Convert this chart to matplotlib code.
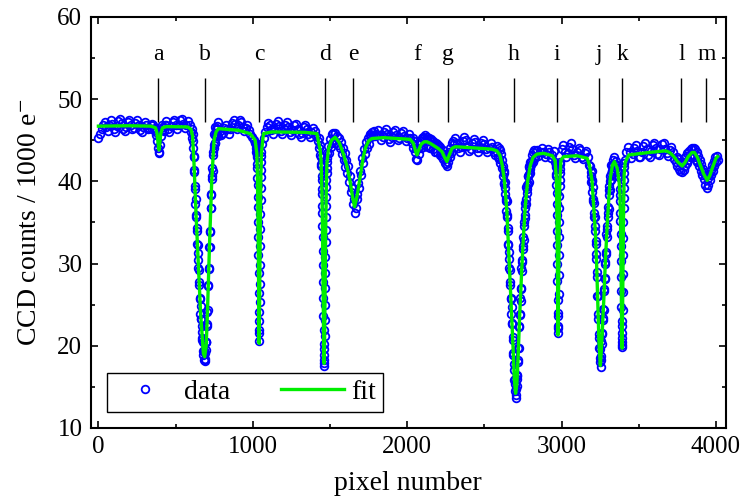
import numpy as np
import matplotlib
matplotlib.use("Agg")
import matplotlib.pyplot as plt
from matplotlib.ticker import MultipleLocator

plt.rcParams["font.family"] = "serif"
plt.rcParams["font.serif"] = ["Liberation Serif", "DejaVu Serif"]
plt.rcParams["mathtext.fontset"] = "stix"

run_01 = [45.3, 45.8, 46.4, 46.9, 47.2, 46.6, 46.1, 46.8, 47.4, 47.0, 46.3, 46.0,
          46.7, 47.3, 47.6, 47.1, 46.4, 46.1, 46.6, 47.2, 47.5, 46.9, 46.3, 46.5,
          47.1, 47.4, 46.8, 46.2, 46.0, 46.6, 47.2, 46.9, 46.3, 46.5, 46.9]
run_a = [46.4, 47.0, 46.8, 46.2, 46.5, 46.0, 45.6, 44.9, 44.0, 43.4, 43.6, 44.4,
         45.5, 46.2, 46.9, 46.6, 46.1, 46.8, 47.3, 46.9]
run_03 = [46.3, 46.0, 46.7, 47.2, 47.5, 46.9, 46.4, 46.8, 47.4, 47.6, 47.0, 46.5,
          46.9, 47.3, 46.8, 46.0]
run_b = [46.4, 45.2, 45.7, 44.0, 44.9, 43.1, 43.0, 41.1, 41.4, 39.4, 39.1, 37.2,
         37.9, 35.9, 35.7, 33.9, 34.3, 32.4, 32.2, 30.4, 31.3, 29.4, 29.2, 27.4,
         27.8, 25.8, 25.7, 23.9, 24.8, 23.2, 23.2, 21.7, 22.4, 20.7, 20.9, 19.3,
         20.5, 18.9, 19.4, 18.3, 19.4, 18.2, 19.1, 18.4, 20.4, 19.5, 20.4, 20.4,
         22.6, 22.4, 24.1, 24.4, 27.3, 27.4, 29.3, 29.5, 32.0, 32.0, 33.8, 33.9,
         36.7, 36.7, 38.3, 38.4, 40.7, 40.3, 41.6, 41.3, 43.6, 43.2, 44.4, 44.1,
         45.7, 44.7, 45.6, 44.7, 46.6, 45.6, 46.4, 45.5, 46.7, 45.7, 46.4, 45.5,
         47.2]
run_05 = [46.1, 45.6, 45.9, 46.5, 46.9, 46.3, 45.8, 46.4, 47.1, 47.5, 47.0, 46.4,
          46.9, 47.4, 47.2, 46.6, 46.1, 46.5, 46.8, 46.2, 45.7, 45.4, 45.0, 44.6]
run_c = [44.6, 44.0, 44.5, 43.6, 44.1, 43.2, 43.5, 43.0, 42.1, 41.6, 40.4, 39.5,
         38.1, 36.9, 35.0, 33.2, 31.0, 28.9, 26.4, 24.1, 21.9, 20.6, 21.5, 23.0,
         25.3, 27.5, 29.8, 32.1, 34.2, 36.0, 37.7, 39.2, 40.5, 41.4, 42.3, 43.1,
         43.6]
run_07 = [44.5, 45.3, 46.0, 46.6, 47.1, 46.8, 46.2, 45.8, 46.4, 47.0, 47.3, 46.7,
          46.1, 45.7, 46.3, 46.9, 47.2, 46.6, 46.0, 45.6, 46.2, 46.8, 47.0, 46.4,
          45.8, 45.4, 45.9, 46.6, 46.9, 46.3, 45.7, 45.4, 46.0, 46.5, 46.1, 45.5,
          44.9]
run_08 = [45.2, 44.0, 44.4, 43.2]
run_d = [42.9, 42.1, 41.8, 40.7, 40.2, 39.0, 38.4, 37.0, 36.1, 34.6, 33.2, 31.5,
         29.8, 27.7, 25.8, 23.6, 21.9, 20.2, 18.9, 17.9, 17.5, 18.3, 19.6, 21.2,
         23.1, 25.0, 27.0, 28.9, 30.8, 32.6, 34.1, 35.6, 37.0, 38.1, 39.3, 40.1,
         41.0, 41.6, 42.4, 42.8, 43.4]
run_e = [44.3, 43.4, 45.1, 44.2, 45.7, 44.6, 45.9, 45.0, 45.9, 44.7, 45.5, 44.4,
         45.2, 44.0, 44.8, 43.3, 44.1, 42.6, 43.4, 41.7, 42.6, 41.0, 41.8, 39.9,
         40.6, 38.7, 39.2, 37.2, 37.8, 36.2, 36.8, 38.5, 37.9, 39.8, 39.2, 41.3,
         40.8, 42.8, 42.2, 43.9, 43.3, 44.8, 44.0, 45.3, 44.5, 45.6, 45.8, 45.4,
         46.0, 45.6, 46.1, 45.5]
run_10 = [45.8, 46.2, 45.6, 45.0, 45.4, 46.0, 46.3, 45.7, 45.1, 44.8, 45.4, 46.0,
          46.2, 45.6, 45.0, 45.3, 45.9, 46.1, 45.5, 44.9, 45.2, 45.8, 45.3, 44.7]
run_fg = [45.3, 44.1, 44.9, 43.5, 44.0, 42.7, 42.6, 44.0, 43.3, 44.7, 44.9, 44.0,
          45.2, 45.4, 44.2, 45.3, 45.6, 44.3, 45.4, 45.1, 44.2, 45.3, 45.0, 44.0,
          45.1, 44.9, 43.9, 44.9, 44.5, 43.6, 44.7, 44.5, 43.5, 44.4, 44.3, 43.2,
          44.2, 43.4, 43.0, 43.8, 42.7, 43.3, 42.2, 42.1, 42.8, 41.9, 42.4, 43.6,
          42.9, 44.1, 43.4, 44.6, 44.9, 44.5]
run_12 = [45.3, 44.7, 44.0, 43.6, 44.2, 44.9, 45.4, 45.0, 44.3, 43.7, 43.9, 44.6,
          45.1, 44.8, 44.1, 43.6, 44.0, 44.7, 45.0, 44.5, 43.9, 43.5, 44.1, 44.6,
          44.2, 43.5, 43.2, 43.6]
run_h1 = [44.3, 42.9, 44.0, 42.7, 43.8, 42.2, 43.3, 41.6, 42.6]
run_h2 = [41.9, 40.6, 41.0, 39.7, 41.2, 39.8, 39.9, 38.5, 39.2, 37.6, 37.9, 36.4,
          37.6, 35.9, 35.7, 33.9, 34.3, 32.4, 32.3, 30.5, 31.4, 29.5, 29.2, 27.4,
          27.8, 25.8, 25.7, 23.9, 24.7, 22.8, 22.6, 20.7, 21.1, 19.1, 18.9, 17.0,
          17.8, 15.8, 16.0, 14.5, 15.3, 13.7, 14.7, 14.0, 15.9, 15.1, 16.5, 16.3,
          18.3, 18.0, 19.7, 19.7, 22.4, 22.3, 23.9, 23.7, 25.8, 25.5, 27.0, 26.9,
          29.4, 29.1, 30.4, 30.2, 32.1, 31.8, 33.2, 32.8, 35.1, 34.6, 35.9, 35.5,
          37.3, 36.7, 37.8, 37.2, 39.3, 38.6, 39.6, 39.0, 40.6, 39.7, 40.6, 39.9,
          41.8, 40.9, 41.7, 41.0, 42.4, 41.5, 42.3]
run_h3 = [42.0, 43.2, 42.4, 43.6, 42.7, 43.8, 42.9, 43.7]
run_14 = [43.8, 43.1, 43.6, 44.1, 43.5, 42.9, 43.3, 43.9, 43.6, 42.8, 43.2, 43.7,
          42.4]
run_i = [42.0, 41.7, 40.9, 40.6, 39.5, 38.6, 37.2, 35.9, 34.0, 32.3, 30.0, 27.9,
         25.6, 23.6, 22.1, 21.5, 22.4, 24.0, 26.3, 28.6, 31.0, 33.2, 35.1, 36.8,
         38.2, 39.4, 40.2, 41.0, 41.5, 42.1, 42.4]
run_16 = [43.9, 44.4, 43.6, 42.9, 43.4, 44.2, 44.6, 43.9, 43.2, 42.8, 43.5, 44.1,
          43.8, 43.0, 42.7, 43.4, 43.7, 42.9, 42.0]
run_j = [41.9, 40.6, 41.1, 39.9, 41.3, 40.0, 40.2, 38.7, 39.3, 37.6, 37.8, 36.2,
         37.3, 35.6, 35.6, 34.0, 34.6, 32.7, 32.4, 30.5, 31.2, 29.0, 28.4, 26.1,
         26.1, 23.8, 23.2, 21.0, 21.4, 19.7, 19.6, 18.0, 18.5, 17.4, 18.7, 18.3,
         20.6, 20.2, 21.6, 21.4, 23.4, 23.1, 24.5, 24.3, 26.9, 26.7, 28.2, 28.1,
         30.2, 30.0, 31.4, 31.2, 33.6, 33.2, 34.5, 34.2, 36.1, 35.6, 36.9, 36.6,
         38.9, 38.3, 39.4, 38.9, 40.6, 40.0, 40.9, 40.1, 42.0, 41.2, 42.0, 41.2,
         42.6]
run_k1 = [42.0, 42.9, 42.1, 42.5, 41.6, 42.0, 41.1, 40.5]
run_k2 = [39.0, 38.3, 37.6, 36.2, 35.2, 33.6, 32.1, 30.3, 28.4, 26.6, 24.7, 23.0,
          21.6, 20.5, 19.9, 20.1, 20.9, 22.4, 24.3, 26.5, 28.7, 31.0, 33.1, 35.0,
          36.7, 38.0, 39.2, 40.2, 41.0, 41.7, 42.2]
run_19 = [42.6, 43.6, 44.2, 43.5, 42.8, 43.3, 44.0, 44.4, 43.7, 43.0, 42.9, 43.6,
          44.3, 44.6, 43.9, 43.2, 43.0, 43.7, 44.4, 44.7, 44.0, 43.3, 43.2, 43.9,
          44.5, 44.6, 43.9, 43.4, 43.1, 43.8, 44.2, 43.5, 42.7, 42.4]
run_lm = [43.0, 41.9, 42.7, 41.5, 42.4, 41.2, 42.3, 41.1, 42.4, 41.4, 42.8, 41.8,
          43.1, 42.2, 43.4, 42.6, 43.7, 42.9, 43.9, 43.1, 44.0, 43.2, 44.1, 43.0,
          43.9, 42.6, 43.5, 42.3, 43.1, 41.8, 42.6, 41.3, 42.1, 40.8, 41.5, 40.3,
          41.1, 39.5, 40.6, 39.2, 40.4, 39.6, 40.9, 40.1, 41.4, 40.8, 42.0, 41.3,
          42.5, 41.9, 43.0, 42.4, 43.1, 42.6]

runs = [
    (0, 10, run_01), (345, 5, run_a), (450, 10, run_03), (606, 2, run_b),
    (785, 10, run_05), (1020, 1, run_c), (1060, 10, run_07), (1426, 4, run_08),
    (1442, 1, run_d), (1486, 6, run_e), (1800, 10, run_10), (2035, 5, run_fg),
    (2310, 10, run_12), (2584, 4, run_h1), (2620, 2, run_h2), (2804, 4, run_h3),
    (2840, 10, run_14), (2962, 1, run_i), (3000, 10, run_16), (3186, 2, run_j),
    (3335, 5, run_k1), (3377, 1, run_k2), (3410, 10, run_19), (3745, 5, run_lm),
]

fit_px = [0, 200, 340, 370, 380, 386, 392, 398, 404, 415, 440, 580, 600, 610, 619,
          632, 647, 662, 680, 688, 698, 706, 719, 734, 749, 762, 777, 906, 982,
          1015, 1026, 1030, 1034, 1038, 1041, 1044, 1048, 1052, 1056, 1069, 1123,
          1339, 1415, 1436, 1442, 1448, 1452, 1456, 1459, 1462, 1465, 1468, 1472,
          1476, 1480, 1490, 1510, 1533, 1560, 1587, 1610, 1630, 1645, 1659, 1672,
          1685, 1700, 1715, 1730, 1750, 1771, 1846, 2019, 2040, 2055, 2063, 2072,
          2090, 2110, 2128, 2150, 2175, 2200, 2225, 2245, 2257, 2270, 2290, 2311,
          2400, 2549, 2580, 2600, 2615, 2630, 2645, 2660, 2672, 2684, 2694, 2702,
          2710, 2718, 2728, 2740, 2752, 2765, 2780, 2797, 2815, 2840, 2884, 2940,
          2958, 2966, 2970, 2974, 2977, 2980, 2984, 2988, 2996, 3014, 3100, 3165,
          3180, 3197, 3208, 3219, 3227, 3234, 3242, 3251, 3259, 3266, 3273, 3284,
          3295, 3306, 3316, 3330, 3342, 3360, 3372, 3378, 3382, 3386, 3389, 3391.5,
          3394, 3397, 3401, 3405, 3412, 3435, 3564, 3673, 3700, 3727, 3750, 3781,
          3800, 3820, 3845, 3860, 3880, 3900, 3920, 3943, 3960, 3980, 4000, 4010]
fit_val = [46.7, 46.75, 46.7, 46.5, 45.8, 44.7, 43.8, 44.7, 45.8, 46.5, 46.65, 46.6,
           46.3, 45.5, 42.2, 36.1, 30.0, 23.9, 19.05, 18.65, 20.0, 23.9, 32.0, 40.1,
           45.0, 46.0, 46.4, 46.2, 45.8, 45.0, 43.4, 40.5, 35.0, 26.5, 20.3, 25.2,
           34.0, 40.3, 43.5, 45.8, 46.0, 45.95, 45.8, 43.8, 42.6, 38.5, 33.3, 25.8,
           20.3, 17.85, 21.0, 26.8, 34.0, 39.1, 42.2, 43.9, 45.0, 45.35, 44.7, 43.3,
           41.8, 40.0, 38.2, 36.9, 37.9, 39.3, 41.1, 42.9, 44.1, 44.9, 45.2, 45.3,
           45.1, 44.6, 43.6, 43.2, 43.7, 44.5, 44.8, 44.8, 44.6, 44.3, 44.0, 43.6,
           42.8, 42.4, 43.1, 44.0, 44.2, 44.1, 43.9, 43.7, 43.2, 42.0, 40.0, 36.5,
           30.5, 25.5, 20.5, 16.0, 14.2, 15.3, 18.5, 23.5, 28.5, 33.0, 37.0, 40.0,
           41.9, 42.9, 43.3, 43.4, 43.1, 42.5, 40.3, 35.5, 26.5, 21.3, 26.0, 34.5,
           40.0, 42.6, 43.0, 43.1, 42.8, 42.0, 40.1, 37.0, 33.7, 29.8, 25.5, 20.5,
           17.6, 20.0, 22.8, 25.5, 30.5, 34.5, 38.0, 40.5, 42.0, 42.4, 41.6, 40.0,
           38.5, 34.5, 27.5, 22.3, 19.7, 22.5, 28.5, 36.0, 40.8, 42.3, 43.2, 43.5,
           43.7, 43.5, 43.0, 42.4, 41.85, 42.3, 43.0, 43.5, 43.5, 42.9, 41.9, 40.9,
           40.1, 40.7, 41.8, 42.8, 43.0]

line_tags = ["a", "b", "c", "d", "e", "f", "g", "h", "i", "j", "k", "l", "m"]
line_px = [388, 690, 1042, 1468, 1652, 2067, 2266, 2692, 2972, 3245, 3394, 3776, 3938]


def main():
    px = np.concatenate([start + step * np.arange(len(v)) for start, step, v in runs])
    counts = np.concatenate([np.asarray(v, dtype=float) for _, _, v in runs])

    fig = plt.figure(figsize=(7.41, 4.98), dpi=100)
    ax = fig.add_axes([0.1224, 0.1406, 0.8574, 0.8257])

    ax.plot(px, counts, "o", mfc="none", mec="#0000ff", ms=5.5, mew=1.3,
            label="data", zorder=2)
    ax.plot(fit_px, fit_val, "-", color="#00ee00", lw=2.4, label="fit", zorder=3)

    ax.vlines(line_px, 47.2, 52.5, color="k", lw=1.0)
    for x, tag in zip(line_px, line_tags):
        ax.text(x, 54.8, tag, ha="center", va="baseline", fontsize=17)

    ax.set_xlim(-50, 4065)
    ax.set_ylim(10, 60)
    ax.xaxis.set_major_locator(MultipleLocator(1000))
    ax.xaxis.set_minor_locator(MultipleLocator(500))
    ax.yaxis.set_major_locator(MultipleLocator(10))
    ax.yaxis.set_minor_locator(MultipleLocator(5))
    ax.tick_params(which="both", direction="in", top=True, right=True,
                   labelsize=18, width=1.2)
    ax.tick_params(which="major", length=5, pad=6)
    ax.tick_params(which="minor", length=3)
    for sp in ax.spines.values():
        sp.set_linewidth(1.5)

    ax.set_xlabel("pixel number", fontsize=20, labelpad=9)
    ax.set_ylabel(r"CCD counts / 1000 e$^{-}$", fontsize=20, labelpad=11)

    leg = ax.legend(loc="lower left", bbox_to_anchor=(0.025, 0.039), ncol=2,
                    fontsize=20, fancybox=False, edgecolor="k", framealpha=1,
                    handlelength=2.3, handletextpad=0.25, columnspacing=1.8,
                    borderpad=0.25, borderaxespad=0, numpoints=1)
    leg.get_frame().set_linewidth(1.0)

    fig.savefig("out.png", dpi=100)
    plt.close(fig)


if __name__ == "__main__":
    main()
